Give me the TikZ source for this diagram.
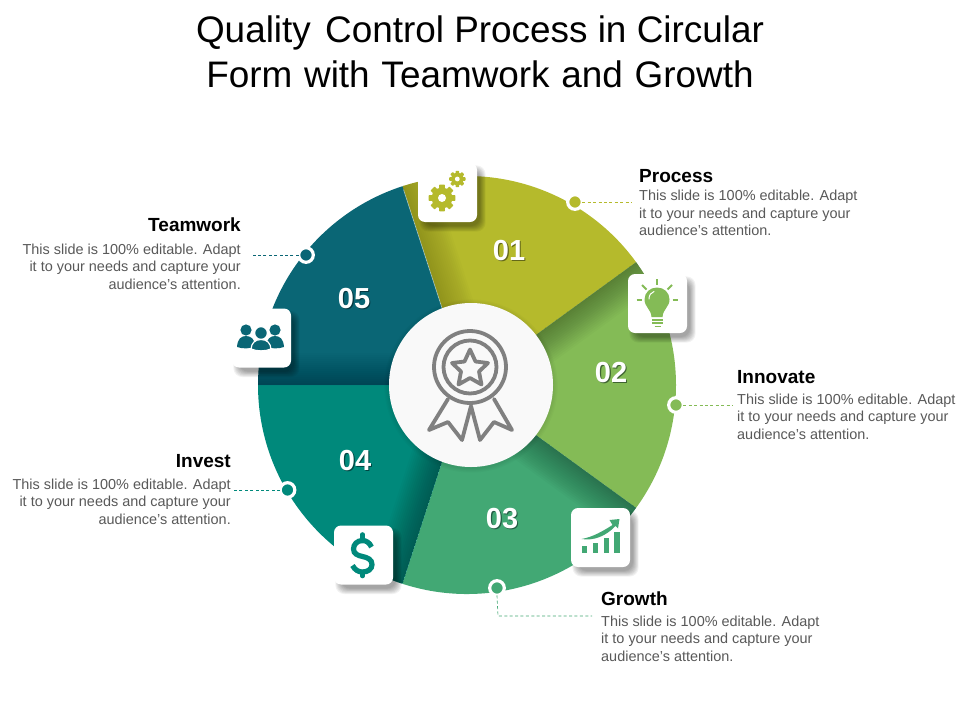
\documentclass[tikz,border=0pt]{standalone}
\usepackage{fontspec}
\setmainfont{Liberation Sans}
\usetikzlibrary{calc}
\definecolor{cA}{HTML}{B5BA2C}\definecolor{cAd}{HTML}{8F9424}
\definecolor{cB}{HTML}{84BB56}\definecolor{cBd}{HTML}{5A8D48}
\definecolor{cC}{HTML}{42A874}\definecolor{cCd}{HTML}{30835F}
\definecolor{cD}{HTML}{00897B}\definecolor{cDd}{HTML}{00665F}
\definecolor{cE}{HTML}{0A6675}\definecolor{cEd}{HTML}{07505C}
\definecolor{bodygray}{HTML}{595959}
\definecolor{medal}{HTML}{808080}
\tikzset{
  iconbox/.style={rectangle,rounded corners=7,fill=white,minimum size=59,inner sep=0},
  dotnode/.style={circle,draw=white,line width=3.2,fill=#1,minimum size=14.6,inner sep=0,outer sep=0},
  leader/.style={#1,line width=.7,dash pattern=on 3pt off 2.4pt},
  headtxt/.style={inner sep=0,font=\fontsize{19}{21}\selectfont\bfseries,text=black},
  bodytxt/.style={inner sep=0,font=\fontsize{14.45}{17.5}\selectfont,text=bodygray},
  numtxt/.style={inner sep=0,font=\fontsize{29}{30}\selectfont\bfseries,text=white},
  titletxt/.style={inner sep=0,align=center,font=\fontsize{36.9}{44.5}\selectfont,text=black},
}
% #1,#2 angles, #3 colour, #4 opacity of one strip of the cast shadow
\newcommand{\wedgepart}[4]{%
  \begin{scope}[shift={(467,385)},yscale=-1]
    \fill[#3] (0,0) -- (#1:209) arc[start angle=#1,end angle=#2,radius=209] -- cycle;
    \begin{scope}
      \clip (0,0) -- (#1:209) arc[start angle=#1,end angle=#2,radius=209] -- cycle;
      \foreach \k in {1,...,16}{
        \fill[rotate=-#2,black,opacity=#4] (0,0) rectangle (230,{-2*\k});
      }
    \end{scope}
  \end{scope}}
\newcommand{\softshadow}[2]{%
  \foreach \k in {0,...,7}{
    \fill[black,opacity=.05,rounded corners=9]
      ({#1-29.5+4-\k*.8+3},{#2-29.5+5-\k*.8+3}) rectangle ({#1+29.5+4+\k*.8-1},{#2+29.5+5+\k*.8-1});
  }}
\newcommand{\gearicon}[6]{%
  \foreach \a in {0,45,...,315}{
    \fill[#6,shift={(#1,#2)},rotate=\a,rounded corners=.7] ({-#3*.22},0) rectangle ({#3*.22},#3);
  }
  \fill[#6] (#1,#2) circle[radius=#4];
  \fill[white] (#1,#2) circle[radius=#5];}
\newcommand{\numlabel}[2]{\rlap{\raisebox{-1.4pt}{\hspace{1.2pt}\textcolor{#2}{#1}}}#1}
\begin{document}
\begin{tikzpicture}[x=1pt,y=-1pt]
\useasboundingbox[fill=white] (0,0) rectangle (960,720);

\node[titletxt] (title) at (480,52) {Quality\hspace{4pt} Control Process in Circular\\{\spaceskip=11.75pt Form with Teamwork and Growth}};

% wedges
\wedgepart{36}{108}{cA}{.012}
\wedgepart{-36}{36}{cB}{.02}
\wedgepart{-108}{-36}{cC}{.018}
\wedgepart{180}{252}{cD}{.018}
\wedgepart{108}{180}{cE}{.014}
\begin{scope}[shift={(467,385)},yscale=-1]
  \draw[white,opacity=.45,line width=.7] (108:70) -- (108:205);
\end{scope}

% centre
\foreach \k in {0,...,3}{\fill[black,opacity=.02] (471,386) circle[radius={83+\k*1.2}];}
\node[circle,fill=white!97.5!black,minimum size=164,inner sep=0] (hub) at (471,385) {};
\begin{scope}[medal,line width=3.8,line join=round,line cap=round]
  \draw (470,367) circle[radius=36];
  \draw (470,367) circle[radius=26.5];
  \draw (470,349.5) -- (475.5,361.5) -- (488,363) -- (479,371.5) -- (481.5,384.5) -- (470,378) -- (458.5,384.5) -- (461,371.5) -- (452,363) -- (464.5,361.5) -- cycle;
  \draw (448,399) -- (429,430) -- (448,422) -- (462,440) -- (471,406) -- (480,440) -- (494,422) -- (512,430) -- (494,399);
\end{scope}

% numbers
\node[numtxt] (n1) at (509,251) {\numlabel{01}{cAd!70!black}};
\node[numtxt] (n2) at (611,373) {\numlabel{02}{cBd!70!black}};
\node[numtxt] (n3) at (502,519) {\numlabel{03}{cCd!70!black}};
\node[numtxt] (n4) at (355,461) {\numlabel{04}{cDd!70!black}};
\node[numtxt] (n5) at (354,299) {\numlabel{05}{cEd!70!black}};

% icon boxes
\softshadow{447.5}{192.5}
\node[iconbox] (i1) at (447.5,192.5) {};
\softshadow{657.5}{303.5}
\node[iconbox] (i2) at (657.5,303.5) {};
\softshadow{600.5}{537.5}
\node[iconbox] (i3) at (600.5,537.5) {};
\softshadow{363.5}{555}
\node[iconbox] (i4) at (363.5,555) {};
\softshadow{261.5}{338}
\node[iconbox] (i5) at (261.5,338) {};

% gears
\gearicon{442}{198}{13.4}{10.4}{4}{cA}
\gearicon{457.3}{179}{8.2}{6.2}{2.4}{cA}

% bulb
\fill[cB] (651.5,317) -- (662.5,317) .. controls (663,309) and (669.5,307) .. (669.5,299.5) .. controls (669.5,292.5) and (664,287.5) .. (657,287.5) .. controls (650,287.5) and (644.5,292.5) .. (644.5,299.5) .. controls (644.5,307) and (651,309) .. (651.5,317) -- cycle;
\draw[white,line width=1,line cap=round] (649,299) .. controls (649,295) and (651,292.5) .. (654,291.5);
\begin{scope}[cB,line width=1.8]
  \draw (652,320) -- (663,320);
  \draw (652,323.3) -- (663,323.3);
  \draw (654.5,326.5) -- (660.5,326.5);
  \draw (657,279) -- (657,285);
  \draw (642,285) -- (646.5,289.5);
  \draw (672,285) -- (667.5,289.5);
  \draw (636.5,300) -- (642,300);
  \draw (672.5,300) -- (678,300);
\end{scope}

% chart
\fill[cC] (582,546) rectangle (587,553);
\fill[cC] (593,543) rectangle (598,553);
\fill[cC] (604,538) rectangle (609,553);
\fill[cC] (614,532) rectangle (619.5,553);
\fill[cC] (581.5,539) .. controls (593,537) and (603,531) .. (612.5,525) -- (609.5,520) -- (619.5,519) -- (618,528.5) -- (615.5,526) .. controls (606,536) and (594,541) .. (581.5,539) -- cycle;

% dollar
\begin{scope}[cD,line width=5.2]
  \draw (371.5,547) .. controls (369.5,542.5) and (366,540.5) .. (362.5,540.5) .. controls (357,540.5) and (353.5,544.5) .. (353.5,549) .. controls (353.5,554) and (358,555.5) .. (362.5,556.5) .. controls (367.5,557.5) and (372,559.5) .. (372,564.5) .. controls (372,569) and (368,572) .. (362.5,572) .. controls (358.5,572) and (355,570) .. (352.5,565.5);
  \draw[line width=4.6,line cap=round] (362.5,534.5) -- (362.5,541);
  \draw[line width=4.6,line cap=round] (362.5,572) -- (362.5,576);
\end{scope}

% people
\fill[cE] (246,330) circle[radius=5.6];
\fill[cE] (275,330) circle[radius=5.6];
\fill[cE] (237,347) .. controls (237.5,339) and (241,336) .. (246,336) .. controls (251,336) and (254.5,339) .. (255.5,346) .. controls (250,349) and (243,349) .. (237,347) -- cycle;
\fill[cE] (266,346) .. controls (267,339) and (270,336) .. (275,336) .. controls (280,336) and (283.5,339) .. (284,347) .. controls (278,349) and (271,349) .. (266,346) -- cycle;
\draw[fill=cE,draw=white,line width=1.2] (261,333) circle[radius=6.4];
\draw[fill=cE,draw=white,line width=1.2] (251,349) .. controls (251.5,343) and (255,339.5) .. (261,339.5) .. controls (267,339.5) and (270.5,343) .. (271,349) .. controls (265,351.5) and (257,351.5) .. (251,349) -- cycle;

% callout dots and leaders
\node[dotnode=cA] (d1) at (575,202) {};
\node[dotnode=cB] (d2) at (676,405) {};
\node[dotnode=cC] (d3) at (497,588) {};
\node[dotnode=cD] (d4) at (287.5,490) {};
\node[dotnode=cE] (d5) at (306,255) {};
\coordinate (e1) at (631,202);
\coordinate (e2) at (733,405);
\coordinate (e3a) at (498,616);
\coordinate (e3) at (592,616);
\coordinate (e4) at (234,490);
\coordinate (e5) at (252,255);
\draw[leader=cA] (d1.east) -- (e1);
\draw[leader=cB] (d2.east) -- (e2);
\draw[leader=cC] (d3.south) -- (e3a) -- (e3);
\draw[leader=cD] (d4.west) -- (e4);
\draw[leader=cE] (d5.west) -- (e5);

% texts
\node[headtxt,anchor=base west] (h1) at (639,182) {Process};
\node[bodytxt,anchor=north west,align=left] (b1) at (639,190.3) {This slide is 100\% editable. Adapt\\it to your needs and capture your\\audience’s attention.};
\node[headtxt,anchor=base west] (h2) at (737,383) {Innovate};
\node[bodytxt,anchor=north west,align=left] (b2) at (737,393.7) {This slide is 100\% editable. Adapt\\it to your needs and capture your\\audience’s attention.};
\node[headtxt,anchor=base west] (h3) at (601,605) {Growth};
\node[bodytxt,anchor=north west,align=left] (b3) at (601,615.7) {This slide is 100\% editable. Adapt\\it to your needs and capture your\\audience’s attention.};
\node[headtxt,anchor=base east] (h4) at (231,467) {Invest};
\node[bodytxt,anchor=north east,align=right] (b4) at (231,478.7) {This slide is 100\% editable. Adapt\\it to your needs and capture your\\audience’s attention.};
\node[headtxt,anchor=base east] (h5) at (241,231) {Teamwork};
\node[bodytxt,anchor=north east,align=right] (b5) at (241,243.7) {This slide is 100\% editable. Adapt\\it to your needs and capture your\\audience’s attention.};
\end{tikzpicture}
\end{document}
